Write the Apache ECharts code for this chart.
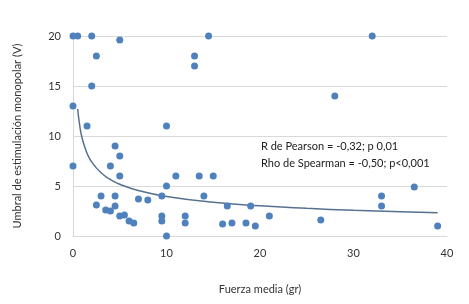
<!DOCTYPE html>
<html>
<head>
<meta charset="utf-8">
<script src="https://cdn.jsdelivr.net/npm/echarts@6/dist/echarts.min.js"></script>
<style>
  html, body { margin: 0; padding: 0; background: #fff; }
  #chart { width: 469px; height: 304px; }
</style>
</head>
<body>
<div id="chart"></div>
<script>
// fuerza media (gr) / umbral (V) de cada paciente
const fuerza = [0, 0.5, 2, 5, 2.5, 2, 0, 1.5, 10, 4.5, 5, 0, 4, 5, 11, 10, 3, 4.5, 7, 8,
  9.5, 2.5, 4.5, 3.5, 4, 5, 5.5, 6, 6.5, 9.5, 9.5, 10, 12, 12, 13.5, 15, 14, 16.5, 19, 16,
  17, 18.5, 19.5, 21, 26.5, 33, 33, 36.5, 39, 14.5, 13, 13, 32, 28];
const umbral = [20, 20, 20, 19.6, 18, 15, 13, 11, 11, 9, 8, 7, 7, 6, 6, 5, 4, 4, 3.7, 3.6,
  4, 3.1, 3, 2.6, 2.5, 2, 2.1, 1.5, 1.3, 2, 1.5, 0, 2, 1.3, 6, 6, 4, 3, 3, 1.2,
  1.3, 1.3, 1, 2, 1.6, 4, 3, 4.9, 1, 20, 18, 17, 20, 14];

// linea de tendencia (potencial)
const tendX = [0.5, 0.75, 1, 1.5, 2, 3, 4, 5, 7, 10, 15, 20, 25, 30, 35, 39];
const tendY = [12.7, 10.85, 9.7, 8.28, 7.4, 6.32, 5.65, 5.18, 4.54, 3.95, 3.37, 3.02, 2.77, 2.57, 2.42, 2.32];

const xTicks = [0, 40, 10];   // min, max, intervalo
const yTicks = [0, 20, 5];

const textos = ['R de Pearson = -0,32; p 0,01', 'Rho de Spearman = -0,50; p<0,001'];

const fuente = 'Lato';
const chart = echarts.init(document.getElementById('chart'));

chart.setOption({
  animation: false,
  textStyle: { fontFamily: fuente },
  grid: { left: 73, right: 22, top: 36, bottom: 68 },
  xAxis: {
    type: 'value',
    min: xTicks[0], max: xTicks[1], interval: xTicks[2],
    name: 'Fuerza media (gr)',
    nameLocation: 'middle',
    nameGap: 48,
    nameTextStyle: { color: '#333', fontSize: 11, fontFamily: fuente },
    axisLine: { show: true, lineStyle: { color: '#d9d9d9' } },
    axisTick: { show: false },
    splitLine: { show: false },
    axisLabel: { color: '#333', fontSize: 11, margin: 12 }
  },
  yAxis: {
    type: 'value',
    min: yTicks[0], max: yTicks[1], interval: yTicks[2],
    name: 'Umbral de estimulación monopolar (V)',
    nameLocation: 'middle',
    nameGap: 50,
    nameTextStyle: { color: '#333', fontSize: 11, fontFamily: fuente },
    axisLine: { show: true, lineStyle: { color: '#d9d9d9' } },
    axisTick: { show: false },
    splitLine: { lineStyle: { color: '#d9d9d9' } },
    axisLabel: { color: '#333', fontSize: 11, margin: 12 }
  },
  graphic: textos.map((t, i) => ({
    type: 'text',
    left: 261,
    top: 141 + i * 17,
    style: { text: t, fill: '#222', fontSize: 11, fontFamily: fuente }
  })),
  series: [
    {
      type: 'line',
      data: tendX.map((x, i) => [x, tendY[i]]),
      smooth: true,
      showSymbol: false,
      lineStyle: { color: '#56718f', width: 1.5 },
      z: 1
    },
    {
      type: 'scatter',
      data: fuerza.map((x, i) => [x, umbral[i]]),
      symbolSize: 7,
      itemStyle: { color: '#4f81bd', opacity: 1 },
      z: 2
    }
  ]
});
</script>
</body>
</html>
